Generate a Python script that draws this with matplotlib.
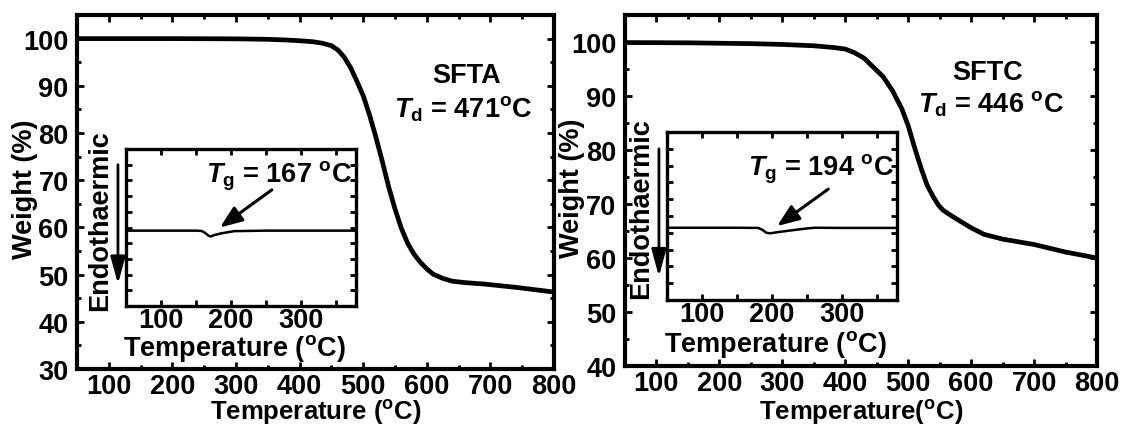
import matplotlib
matplotlib.use("Agg")
import matplotlib.pyplot as plt
from matplotlib.ticker import MultipleLocator

plt.rcParams['font.family'] = 'Liberation Sans'
plt.rcParams['font.weight'] = 'bold'
plt.rcParams['axes.labelweight'] = 'bold'
plt.rcParams['font.size'] = 19.5
plt.rcParams['mathtext.fontset'] = 'custom'
plt.rcParams['mathtext.rm'] = 'Liberation Sans:bold'
plt.rcParams['mathtext.bf'] = 'Liberation Sans:bold'
plt.rcParams['mathtext.it'] = 'Liberation Sans:bold:italic'

# TGA curves (weight % vs temperature)
sfta_temp = [50, 200, 300, 350, 380, 400, 420, 435, 450, 460, 470, 480, 490, 500,
             510, 520, 530, 540, 550, 560, 570, 580, 590, 600, 610, 625, 640, 660,
             690, 740, 800]
sfta_weight = [100, 100, 99.95, 99.85, 99.7, 99.55, 99.35, 99.05, 98.5, 97.6, 96.1,
               93.9, 91.0, 87.9, 83.8, 79.1, 74.0, 68.6, 63.9, 59.8, 56.6, 54.3, 52.6,
               51.2, 50.1, 49.2, 48.6, 48.3, 48.0, 47.3, 46.3]

sftc_temp = [50, 150, 250, 300, 350, 380, 400, 415, 430, 445, 460, 475, 490, 500,
             510, 520, 530, 540, 548, 555, 565, 580, 600, 620, 650, 700, 750, 800]
sftc_weight = [99.9, 99.85, 99.7, 99.55, 99.3, 99.0, 98.7, 98.0, 97.0, 95.3, 93.6,
               91.0, 87.6, 84.5, 80.5, 76.8, 73.5, 71.3, 69.8, 68.9, 68.1, 67.0, 65.6,
               64.4, 63.5, 62.5, 61.1, 60.0]

# DSC insets (heat flow, arbitrary units)
dsc_a_temp = [50, 150, 158, 163, 168, 171, 176, 185, 195, 205, 250, 300, 378]
dsc_a_flow = [0.48, 0.48, 0.478, 0.465, 0.447, 0.443, 0.452, 0.462, 0.47, 0.477,
              0.48, 0.48, 0.48]
dsc_c_temp = [50, 150, 180, 186, 192, 197, 210, 230, 250, 260, 300, 378]
dsc_c_flow = [0.43, 0.43, 0.429, 0.418, 0.40, 0.397, 0.405, 0.416, 0.426, 0.43,
              0.429, 0.429]

names = ['SFTA', 'SFTC']
td_values = [471, 446]
tg_values = [167, 194]

fig = plt.figure(figsize=(11.24, 4.27), dpi=100)


def style_axes(ax, lw, major=5, minor=3):
    for s in ax.spines.values():
        s.set_linewidth(lw)
    ax.tick_params(which='both', direction='in', top=True, right=True, width=2)
    ax.tick_params(which='major', length=major)
    ax.tick_params(which='minor', length=minor)


def main_panel(rect, temp, weight, ylo, xlabel, label_xy):
    ax = fig.add_axes(rect)
    ax.plot(temp, weight, color='black', lw=3.4, solid_joinstyle='round')
    ax.set_xlim(50, 800)
    ax.set_ylim(ylo, 105)
    ax.xaxis.set_major_locator(MultipleLocator(100))
    ax.xaxis.set_minor_locator(MultipleLocator(50))
    ax.yaxis.set_major_locator(MultipleLocator(10))
    ax.yaxis.set_minor_locator(MultipleLocator(5))
    style_axes(ax, 3)
    ax.tick_params(axis='y', pad=6)
    ax.tick_params(axis='x', pad=3)
    ax.set_xlabel(xlabel, fontsize=18.5)
    ax.set_ylabel('Weight (%)')
    ax.xaxis.set_label_coords(0.5, label_xy[1])
    ax.yaxis.set_label_coords(label_xy[0], 0.51)
    return ax


def inset_panel(rect, temp, flow, tg, tg_xy, arrow_tail, arrow_tip):
    ax = fig.add_axes(rect)
    ax.plot(temp, flow, color='black', lw=1.8)
    ax.set_xlim(50, 378)
    ax.set_ylim(0, 1)
    ax.xaxis.set_major_locator(MultipleLocator(100))
    ax.xaxis.set_minor_locator(MultipleLocator(50))
    ax.yaxis.set_major_locator(MultipleLocator(0.1))
    ax.set_yticklabels([])
    style_axes(ax, 2.4, major=4, minor=4)
    ax.tick_params(axis='x', pad=1)
    ax.set_xlabel(r'Temperature ($^\mathrm{o}$C)')
    ax.xaxis.set_label_coords(0.47, -0.165)
    ax.text(tg_xy[0], tg_xy[1], r'$\mathit{T}_\mathrm{g}$ = %d $^\mathrm{o}$C' % tg,
            ha='center', va='baseline')
    ax.annotate('', xy=arrow_tip, xytext=arrow_tail,
                arrowprops=dict(arrowstyle='-|>,head_length=0.9,head_width=0.35',
                                color='black', lw=2.2, mutation_scale=15,
                                shrinkA=0, shrinkB=0))
    # heat-flow direction marker to the left of the frame
    ax.text(-0.113, 0.55, 'Endothaermic', rotation=90, ha='center', va='center',
            transform=ax.transAxes)
    ax.annotate('', xy=(-0.035, 0.14), xytext=(-0.035, 0.90),
                xycoords='axes fraction', textcoords='axes fraction',
                arrowprops=dict(arrowstyle='-|>,head_length=1.1,head_width=0.3',
                                color='black', lw=2, mutation_scale=15,
                                shrinkA=0, shrinkB=0))
    return ax


ax1 = main_panel([0.0685, 0.1335, 0.4244, 0.829], sfta_temp, sfta_weight, 30,
                 r'Temperature ($^\mathrm{o}$C)', (-0.082, -0.078))
ax1.text(662, 92.3, names[0], ha='center', va='center')
ax1.text(658, 83.4, r'$\mathit{T}_\mathrm{d}$ = %d$^\mathrm{o}$C' % td_values[0],
         ha='center', va='baseline')

ax2 = main_panel([0.556, 0.1405, 0.42, 0.822], sftc_temp, sftc_weight, 40,
                 r'Temperature($^\mathrm{o}$C)', (-0.085, -0.087))
ax2.text(626, 94.5, names[1], ha='center', va='center')
ax2.text(632, 87.2, r'$\mathit{T}_\mathrm{d}$ = %d $^\mathrm{o}$C' % td_values[1],
         ha='center', va='baseline')

inset_panel([0.1121, 0.281, 0.2046, 0.3677], dsc_a_temp, dsc_a_flow, tg_values[0],
            (268, 0.79), (258, 0.74), (184, 0.50))
inset_panel([0.5934, 0.2951, 0.2046, 0.3934], dsc_c_temp, dsc_c_flow, tg_values[1],
            (270, 0.75), (280, 0.66), (207, 0.44))

fig.savefig('out.png', dpi=100)
